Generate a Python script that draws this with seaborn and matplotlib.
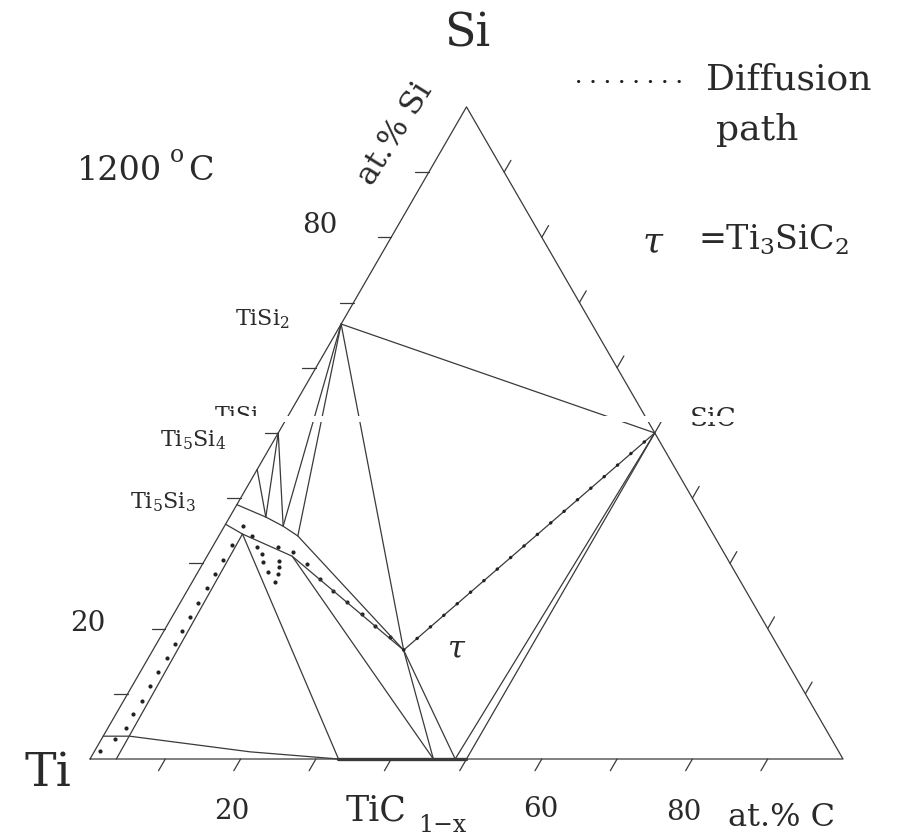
import numpy as np
import pandas as pd
import matplotlib
matplotlib.use("Agg")
import matplotlib.pyplot as plt
import seaborn as sns

# Ti-Si-C isotherm at 1200 C, compositions in (at.% C, at.% Si)
TI = (0, 0)
C = (100, 0)
SI = (0, 100)
TISI2 = (0, 66.7)
TISI = (0, 50)
TI5SI4 = (0, 44.4)
T53_HI = (0, 39)
T53_LO = (0, 36)
P1 = (4.8, 37.1)
P2 = (7.8, 35.7)
P3 = (10.5, 34.2)
A = (3.0, 34.5)
B = (11.3, 31.1)
TAU = (33.3, 16.7)
SIC = (50, 50)
TIC_LO = (33.0, 0)
TIC_MID = (45.6, 0)
TIC_SIC = (48.5, 0)
TIC_HI = (50.0, 0)
STRIP_BOT = (3.5, 0)
CORNER_EDGE = (0, 3.5)
CORNER_STRIP = (3.5, 3.5)
BEND = (20.7, 1.1)

tie_lines = [
    [TI, C, SI, TI],
    [TISI2, SIC],
    [TISI2, TAU],
    [TISI2, P2],
    [TISI2, P3],
    [TISI, P2],
    [TISI, P1],
    [TI5SI4, P1],
    [T53_HI, P1, P2, P3, TAU],
    [T53_LO, A, B, TAU],
    [B, TIC_MID],
    [A, TIC_LO],
    [TAU, TIC_MID],
    [TAU, TIC_SIC],
    [SIC, TIC_SIC],
    [SIC, TIC_HI],
    [TAU, SIC],
    [STRIP_BOT, A],
    [CORNER_EDGE, CORNER_STRIP, BEND, TIC_LO],
]

# diffusion path dots (at.% C, at.% Si)
path_c = [0.7, 1.8, 2.4, 2.3, 2.5, 2.4, 2.4, 2.5, 2.5, 2.4, 2.4, 2.4, 2.4, 2.4,
          2.4, 2.5, 2.5, 4.4, 5.9, 7.1, 7.9, 9.3, 11.0, 10.8, 10.4, 9.9, 8.7,
          11.1, 13.9, 16.7, 19.4, 22.1, 25.0, 27.7, 30.5]
path_si = [1.2, 3.1, 4.8, 6.9, 8.9, 11.2, 13.3, 15.5, 17.6, 19.6, 21.8, 23.9,
           26.2, 28.4, 30.5, 32.8, 35.7, 34.2, 32.5, 31.4, 30.2, 28.7, 27.1,
           28.4, 29.4, 30.4, 32.5, 31.7, 29.9, 27.6, 25.8, 24.1, 22.2, 20.4, 18.7]

ticks = [10, 20, 30, 40, 50, 60, 70, 80, 90]

R3 = np.sqrt(3) / 2


def cart(cs):
    c, s = cs
    return c + s / 2, s * R3


def P(px, py):
    return (px - 90) / 7.53, (760 - py) / 7.53


rows = []
for i, seg in enumerate(tie_lines):
    for pt in seg:
        x, y = cart(pt)
        rows.append({"seg": i, "x": x, "y": y})
n = len(tie_lines)
L = 1.8
for t in ticks:
    x, y = cart((0, t))
    rows += [{"seg": n, "x": x, "y": y}, {"seg": n, "x": x - L, "y": y}]
    x, y = cart((t, 0))
    rows += [{"seg": n + 1, "x": x, "y": y}, {"seg": n + 1, "x": x - L * 0.5, "y": y - L * R3}]
    x, y = cart((100 - t, t))
    rows += [{"seg": n + 2, "x": x, "y": y}, {"seg": n + 2, "x": x + L * 0.5, "y": y + L * R3}]
    n += 3
lines = pd.DataFrame(rows)

dots = pd.DataFrame({"x": [c + s / 2 for c, s in zip(path_c, path_si)],
                     "y": [s * R3 for s in path_si]})

sns.set_style("white")
plt.rcParams["font.family"] = ["DejaVu Serif"]
plt.rcParams["mathtext.fontset"] = "dejavuserif"

fig = plt.figure(figsize=(9, 8.37), dpi=100)
ax = fig.add_axes([0, 0, 1, 1])
col = "#3a3a3a"

sns.lineplot(data=lines, x="x", y="y", units="seg", estimator=None, sort=False,
             color=col, lw=0.9, ax=ax, legend=False)
# TiC1-x single phase range
tic = pd.DataFrame({"x": [cart(TIC_LO)[0], cart(TIC_HI)[0]], "y": [0, 0]})
sns.lineplot(data=tic, x="x", y="y", color=col, lw=2.4, ax=ax, legend=False)
# dotted tau-SiC part of the path
ts = pd.DataFrame({"x": [cart(TAU)[0], cart(SIC)[0]], "y": [cart(TAU)[1], cart(SIC)[1]]})
ax.plot(ts["x"], ts["y"], color="#222222", lw=2.4, dashes=(0.1, 5.2),
        dash_capstyle="round")
sns.scatterplot(data=dots, x="x", y="y", color="#222222", s=9, linewidth=0, ax=ax)

# legend line
lx0, ly = P(578, 82)
lx1, _ = P(690, 82)
ax.plot([lx0, lx1], [ly, ly], color="#222222", lw=2.2, dashes=(0.1, 4.6),
        dash_capstyle="round")

tc = "#2a2a2a"
ax.text(*P(467, 34), "Si", fontsize=33, ha="center", va="center", color=tc)
ax.text(*P(48, 773), "Ti", fontsize=34, ha="center", va="center", color=tc)
ax.text(*P(77, 180), "1200", fontsize=24, ha="left", va="baseline", color=tc)
ax.text(*P(170, 162), "o", fontsize=17, ha="left", va="baseline", color=tc)
ax.text(*P(188, 180), "C", fontsize=24, ha="left", va="baseline", color=tc)
ax.text(*P(395, 134), "at.% Si", fontsize=23, rotation=58, ha="center", va="center", color=tc)
ax.text(*P(320, 226), "80", fontsize=20, ha="center", va="center", color=tc)
ax.text(*P(88, 624), "20", fontsize=20, ha="center", va="center", color=tc)
ax.text(*P(232, 812), "20", fontsize=20, ha="center", va="center", color=tc)
ax.text(*P(541, 810), "60", fontsize=20, ha="center", va="center", color=tc)
ax.text(*P(684, 813), "80", fontsize=20, ha="center", va="center", color=tc)
ax.text(*P(346, 821), "TiC", fontsize=25, ha="left", va="baseline", color=tc)
ax.text(*P(418, 832), "1\u2212x", fontsize=17, ha="left", va="baseline", color=tc)
ax.text(*P(728, 826), "at.% C", fontsize=23, ha="left", va="baseline", color=tc)
ax.text(*P(706, 90), "Diffusion", fontsize=26, ha="left", va="baseline", color=tc)
ax.text(*P(716, 140), "path", fontsize=26, ha="left", va="baseline", color=tc)
ax.text(*P(653, 242), "$\\tau$", fontsize=26, ha="center", va="center", color=tc)
ax.text(*P(698, 250), "=Ti$_3$SiC$_2$", fontsize=24, ha="left", va="baseline", color=tc)
ax.text(*P(457, 650), "$\\tau$", fontsize=22, ha="center", va="center", color=tc)
ax.text(*P(235, 325), "TiSi$_2$", fontsize=16, ha="left", va="baseline", color=tc)
ax.text(*P(215, 422), "TiSi", fontsize=16, ha="left", va="baseline", color=tc)
ax.text(*P(160, 446), "Ti$_5$Si$_4$", fontsize=16, ha="left", va="baseline", color=tc)
ax.text(*P(130, 508), "Ti$_5$Si$_3$", fontsize=16, ha="left", va="baseline", color=tc)
ax.text(*P(690, 426), "SiC", fontsize=19, ha="left", va="baseline", color=tc)

# blank scan strip across the figure
gx0, gy0 = P(205, 423)
gx1, gy1 = P(760, 417)
ax.add_patch(plt.Rectangle((gx0, gy0), gx1 - gx0, gy1 - gy0, color="white", zorder=10, lw=0))

ax.set_xlim(P(0, 0)[0], P(900, 0)[0])
ax.set_ylim(P(0, 837)[1], P(0, 0)[1])
ax.set_axis_off()
fig.savefig("out.png", dpi=100)
